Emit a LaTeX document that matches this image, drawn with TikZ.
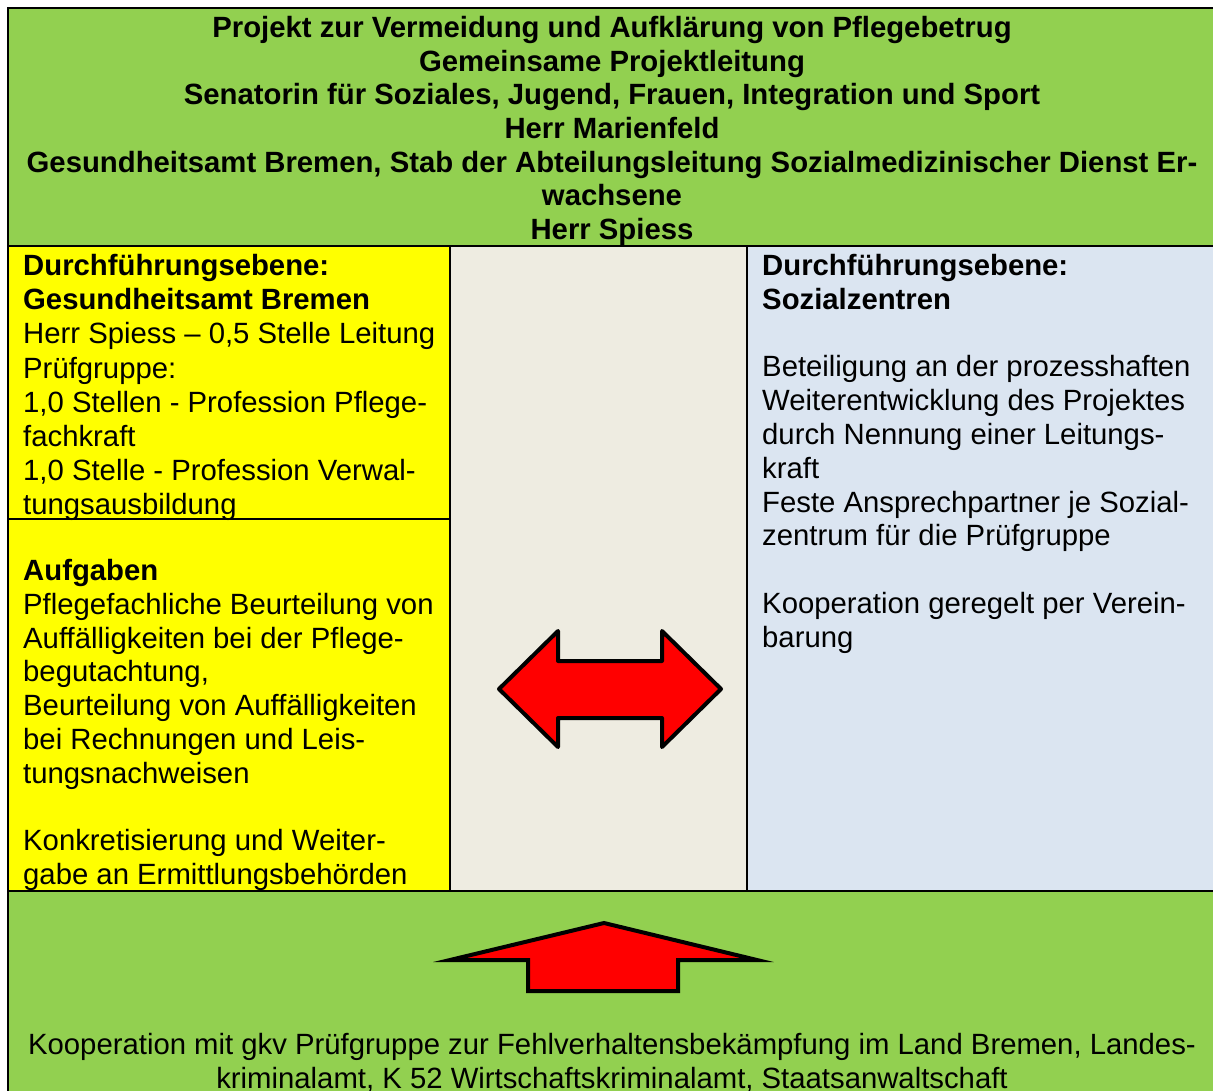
\documentclass[tikz,border=0pt]{standalone}
\usepackage{fontspec}
\setmainfont{Liberation Sans}
\usepackage{xcolor}
\usetikzlibrary{positioning}
\definecolor{kopfgruen}{HTML}{92D050}
\definecolor{gelb}{HTML}{FFFF00}
\definecolor{beige}{HTML}{EEECE1}
\definecolor{hellblau}{HTML}{DBE5F1}
\tikzset{
    feld/.style={
        draw=black,
        line width=2.2pt,
    },
    txt/.style={
        inner sep=0pt,
        anchor=north west,
        align=left,
        font=\fontsize{29.3}{33.8}\selectfont,
    },
    pfeil/.style={
        fill=red,
        draw=black,
        line width=4pt,
    },
}

\begin{document}
\begin{tikzpicture}[x=1pt, y=-1pt]
      \useasboundingbox (0,0) rectangle (1213,1090);
      % Felder
      \fill[kopfgruen] (8,8) rectangle (1220,246);
      \fill[gelb] (8,246) rectangle (450,891);
      \fill[beige] (450,246) rectangle (747,891);
      \fill[hellblau] (747,246) rectangle (1220,891);
      \fill[kopfgruen] (8,891) rectangle (1220,1100);
      \draw[feld] (8,1100) -- (8,8) -- (1220,8);
      \draw[feld] (8,246) -- (1220,246);
      \draw[feld] (8,891) -- (1220,891);
      \draw[feld] (450,246) -- (450,891);
      \draw[feld] (747,246) -- (747,891);
      \draw[feld] (8,519) -- (450,519);

      % Texte
      \node[txt, anchor=north, align=center, font=\fontsize{29.3}{33.7}\selectfont\bfseries] (kopf) at (612,16)
        {Projekt zur Vermeidung und Aufklärung von Pflegebetrug\\
         Gemeinsame Projektleitung\\
         Senatorin für Soziales, Jugend, Frauen, Integration und Sport\\
         Herr Marienfeld\\
         Gesundheitsamt Bremen, Stab der Abteilungsleitung Sozialmedizinischer Dienst Er-\\
         wachsene\\
         Herr Spiess};
      \node[txt] (gesamt) at (23,254)
        {\textbf{Durchführungsebene:}\\
         \textbf{Gesundheitsamt Bremen}\\
         Herr Spiess – 0,5 Stelle Leitung\\[2pt]
         Prüfgruppe:\\
         1,0 Stellen - Profession Pflege-\\
         fachkraft\\
         1,0 Stelle - Profession Verwal-\\
         tungsausbildung};
      \node[txt] (aufgaben) at (23,559)
        {\textbf{Aufgaben}\\
         Pflegefachliche Beurteilung von\\
         Auffälligkeiten bei der Pflege-\\
         begutachtung,\\
         Beurteilung von Auffälligkeiten\\
         bei Rechnungen und Leis-\\
         tungsnachweisen\\[33.8pt]
         Konkretisierung und Weiter-\\
         gabe an Ermittlungsbehörden};
      \node[txt] (sozial) at (762,254)
        {\textbf{Durchführungsebene:}\\
         \textbf{Sozialzentren}\\[33.8pt]
         Beteiligung an der prozesshaften\\
         Weiterentwicklung des Projektes\\
         durch Nennung einer Leitungs-\\
         kraft\\
         Feste Ansprechpartner je Sozial-\\
         zentrum für die Prüfgruppe\\[33.8pt]
         Kooperation geregelt per Verein-\\
         barung};
      \node[txt, anchor=north, align=center] (koop) at (612,1033)
        {Kooperation mit gkv Prüfgruppe zur Fehlverhaltensbekämpfung im Land Bremen, Landes-\\
         kriminalamt, K 52 Wirtschaftskriminalamt, Staatsanwaltschaft};

      % Pfeile
      \draw[pfeil, line join=round] (499,689) -- (558,631) -- (558,661) -- (662,661) -- (662,631)
        -- (721,689) -- (662,747) -- (662,718) -- (558,718) -- (558,747) -- cycle;
      \draw[pfeil, line join=miter] (604,923) -- (757,960) -- (678,960) -- (678,991)
        -- (528,991) -- (528,960) -- (450,960) -- cycle;
\end{tikzpicture}
\end{document}
